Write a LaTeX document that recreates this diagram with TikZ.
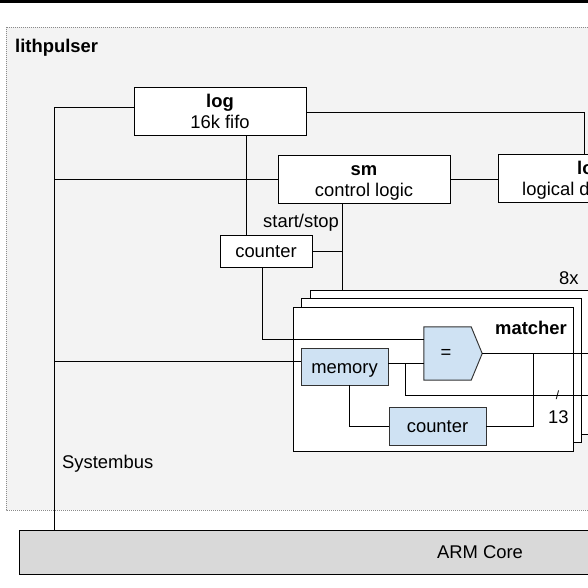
\documentclass[tikz,border=0pt]{standalone}
\usepackage{fontspec}
\setmainfont{Liberation Sans}
\definecolor{bg}{HTML}{F3F3F3}
\definecolor{armgray}{HTML}{D9D9D9}
\definecolor{lblue}{HTML}{CFE2F3}
\definecolor{dotgray}{HTML}{8A8A8A}
\definecolor{edge}{HTML}{333333}
\begin{document}
\begin{tikzpicture}[x=1pt,y=-1pt,
  every node/.style={font=\fontsize{18.4}{21}\selectfont, inner sep=0pt},
  wire/.style={line width=0.9pt, draw=black},
  box/.style={draw=black, line width=0.95pt, fill=white},
  bluebox/.style={draw=edge, line width=0.95pt, fill=lblue},
  txt/.style={text height=13.2pt, text depth=0pt},
  mbox/.style={box, minimum width=280, minimum height=144}]
\useasboundingbox (0,0) rectangle (588,588);
\fill[white] (0,0) rectangle (588,588);
\fill[black] (0,0) rectangle (588,3);
% lithpulser frame
\draw[dotgray, dash pattern=on 1pt off 1pt, line width=0.8pt, fill=bg] (6,27) rectangle (700,510);
% ARM core
\node[draw=black, line width=0.95pt, fill=armgray, minimum width=921, minimum height=44, txt] (arm) at (480,552) {ARM Core};
% top blocks
\node[box, minimum width=172, minimum height=48, align=center] (log) at (220,111) {\rule{0pt}{13.6pt}\textbf{log}\\\smash{16k fifo}};
\node[box, minimum width=172, minimum height=48, align=center] (sm) at (364,179) {\rule{0pt}{13.6pt}\textbf{sm}\\\smash{control logic}};
\node[box, minimum width=172, minimum height=48] (lc) at (584,178) {};
\node[anchor=base west] (lcT) at (577,175) {\textbf{lo}};
\node[anchor=base west] (lcB) at (522,195) {logical d};
\node[box, txt, minimum width=92, minimum height=32] (cnt) at (266,251) {counter};
% matcher stack
\node[mbox] (mback) at (450,362) {};
\node[mbox] (mmid) at (441.5,370.5) {};
\node[mbox] (mfront) at (433,379) {};
\node[bluebox, txt, minimum width=87, minimum height=37] (mem) at (344.5,366.5) {memory};
\node[minimum width=58, minimum height=53] (cmp) at (453,353.5) {};
\draw[bluebox] (cmp.north west) -- ([xshift=-11pt]cmp.north east) -- (cmp.east) -- ([xshift=-11pt]cmp.south east) -- (cmp.south west) -- cycle;
\node (eq) at (446,354) {=};
\node[bluebox, txt, minimum width=97, minimum height=38] (cnt2) at (437.5,426) {counter};
% coordinates
\coordinate (b0) at (54,107);
\coordinate (smd) at ([xshift=-22pt]sm.south);
\coordinate (br) at (405.7,363);
\coordinate (busOut) at (620,395);
\coordinate (outR) at (620,353.5);
\coordinate (tap) at (533,353.5);
% connectors
\draw[wire] ([yshift=4pt]log.west) -- (b0) -- (b0 |- arm.north);
\draw[wire] ([yshift=-1pt]log.east) -| (lc.north);
\draw[wire] (sm.west) -- (sm.west -| b0);
\draw[wire] (sm.east) -- (sm.east -| lc.west);
\draw[wire] ([xshift=26pt]log.south) -- ([xshift=26pt]log.south |- cnt.north);
\draw[wire] (smd) -- (smd |- mback.north);
\draw[wire] (cnt.east) -- (cnt.east -| smd);
\draw[wire] ([xshift=-4pt]cnt.south) |- ([yshift=14.5pt]cmp.west);
\draw[wire] ([yshift=5.5pt]mem.west) -- ([yshift=5.5pt]mem.west -| b0);
\draw[wire] ([yshift=3.5pt]mem.east) -- ([yshift=3.5pt]mem.east -| cmp.west);
\draw[wire] (br) |- (busOut);
\draw[wire] (cmp.east) -- (outR);
\draw[wire] (tap) |- (cnt2.east);
\draw[wire] ([xshift=4.5pt]mem.south) |- (cnt2.west);
% labels
\node[anchor=base west] (title) at (15,53) {\textbf{lithpulser}};
\node[anchor=base west] (ss) at (263,227) {start/stop};
\node[anchor=base west] (n8) at (559,284) {8x};
\node[anchor=base west] (mt) at (495,334) {\textbf{matcher}};
\node[anchor=base west] (n13) at (548,423.5) {13};
\node[font=\fontsize{12}{14}\selectfont] (sl) at (557.5,395) {/};
\node[anchor=base west] (sb) at (62,468) {Systembus};
\end{tikzpicture}
\end{document}
